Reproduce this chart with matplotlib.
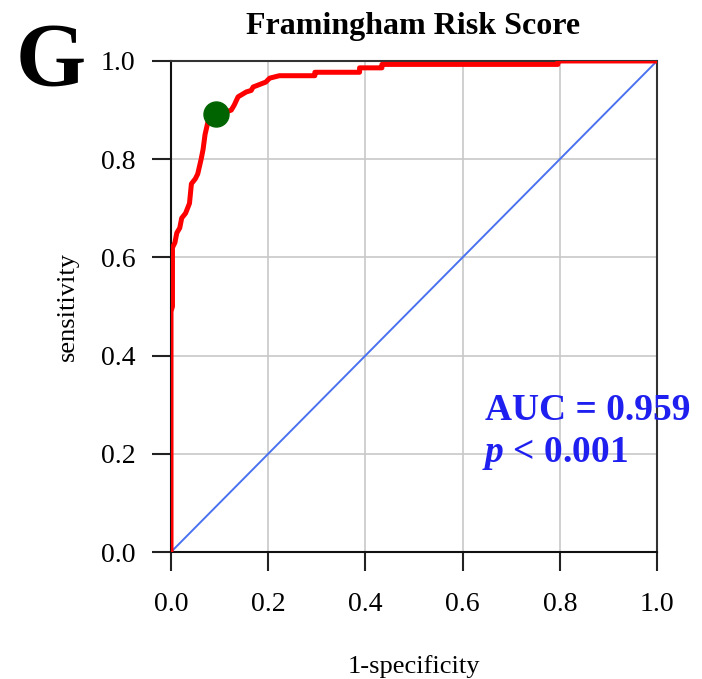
import matplotlib

matplotlib.use("Agg")
import matplotlib.pyplot as plt

# ROC curve vertices (1-specificity, sensitivity)
fpr = [0.0, 0.0, 0.003, 0.003, 0.008, 0.012, 0.018, 0.022, 0.030, 0.038,
       0.042, 0.050, 0.055, 0.062, 0.066, 0.070, 0.076, 0.085, 0.092, 0.110,
       0.124, 0.130, 0.138, 0.155, 0.165, 0.169, 0.195, 0.203, 0.223, 0.296,
       0.296, 0.388, 0.388, 0.434, 0.434, 0.796, 0.796, 1.0]
tpr = [0.0, 0.49, 0.50, 0.62, 0.63, 0.65, 0.66, 0.68, 0.69, 0.71,
       0.75, 0.76, 0.77, 0.80, 0.82, 0.85, 0.876, 0.885, 0.892, 0.895,
       0.90, 0.91, 0.927, 0.937, 0.94, 0.947, 0.957, 0.965, 0.970, 0.970,
       0.977, 0.977, 0.986, 0.986, 0.993, 0.993, 1.0, 1.0]

# optimal cut-off point
cut_fpr = 0.092
cut_tpr = 0.892

ticks = [0.0, 0.2, 0.4, 0.6, 0.8, 1.0]
tick_labels = ["0.0", "0.2", "0.4", "0.6", "0.8", "1.0"]

title = "Framingham Risk Score"
panel = "G"
auc_text = "AUC = 0.959"
p_text = r"$p$ < 0.001"

serif = "Liberation Serif"
plt.rcParams["mathtext.fontset"] = "custom"
plt.rcParams["mathtext.it"] = "Liberation Serif:italic:bold"
plt.rcParams["mathtext.rm"] = "Liberation Serif:bold"

fig = plt.figure(figsize=(7.02, 6.79), dpi=100)
ax = fig.add_axes([0.2436, 0.187, 0.6923, 0.7232])

ax.grid(True, color="#c8c8c8", linewidth=1.2)
ax.set_axisbelow(True)

ax.plot([0, 1], [0, 1], color="#4a72f0", linewidth=1.4, zorder=2)
ax.plot(fpr, tpr, color="#ff0000", linewidth=3.6, zorder=3)
ax.plot(cut_fpr, cut_tpr, "o", color="#006400", markersize=18, zorder=4)

ax.set_xlim(0, 1)
ax.set_ylim(0, 1)
ax.set_xticks(ticks)
ax.set_yticks(ticks)
ax.set_xticklabels(tick_labels, fontfamily=serif, fontsize=20)
ax.set_yticklabels(tick_labels, fontfamily=serif, fontsize=20)
ax.tick_params(direction="out", length=13.5, width=1.5, color="#222222", pad=12)
ax.tick_params(axis="x", pad=15)

for side in ["left", "bottom", "right", "top"]:
    ax.spines[side].set_linewidth(1.5)
    ax.spines[side].set_color("#333333")
ax.spines["left"].set_color("#111111")
ax.spines["bottom"].set_color("#111111")

ax.set_xlabel("1-specificity", fontfamily=serif, fontsize=19, labelpad=28)
ax.set_ylabel("sensitivity", fontfamily=serif, fontsize=19, labelpad=16)

fig.text(0.589, 0.961, title, fontfamily=serif, fontsize=23, fontweight="bold",
         ha="center", va="center")
fig.text(0.022, 0.907, panel, fontfamily=serif, fontsize=65, fontweight="bold",
         ha="left", va="center")

fig.text(0.691, 0.381, auc_text, fontfamily=serif, fontsize=27, fontweight="bold",
         color="#1f1ff0", ha="left", va="baseline")
fig.text(0.687, 0.319, p_text, fontfamily=serif, fontsize=27, fontweight="bold",
         color="#1f1ff0", ha="left", va="baseline")

fig.savefig("out.png", dpi=100)
